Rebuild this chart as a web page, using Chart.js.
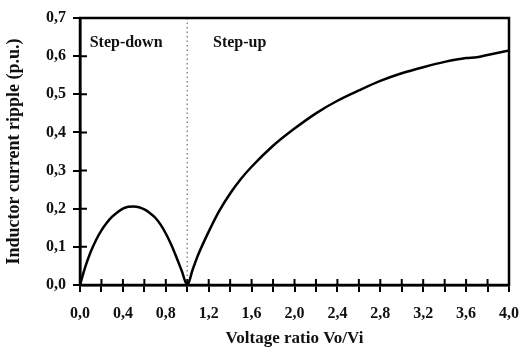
<!DOCTYPE html>
<html>
<head>
<meta charset="utf-8">
<script src="https://cdn.jsdelivr.net/npm/chart.js@4/dist/chart.umd.min.js"></script>
<style>
  html, body { margin: 0; padding: 0; background: #fff; }
  #wrap { width: 521px; height: 353px; }
</style>
</head>
<body>
<div id="wrap"><canvas id="grafico"></canvas></div>
<script>
// values
var ratio = [0, 0.05, 0.1, 0.15, 0.2, 0.25, 0.3, 0.35, 0.4, 0.45, 0.5, 0.55, 0.6, 0.65, 0.7, 0.75, 0.8, 0.85, 0.9, 0.95, 1.0,
  1.05, 1.1, 1.2, 1.3, 1.4, 1.5, 1.6, 1.8, 2.0, 2.2, 2.4, 2.6, 2.8, 3.0, 3.2, 3.4, 3.6, 3.7, 3.8, 4.0];
var ripple = [0, 0.048, 0.087, 0.118, 0.143, 0.163, 0.179, 0.191, 0.2, 0.205, 0.206, 0.204, 0.198, 0.189, 0.177, 0.159, 0.135, 0.106, 0.072, 0.036, 0,
  0.04, 0.078, 0.14, 0.195, 0.24, 0.278, 0.31, 0.365, 0.41, 0.45, 0.483, 0.51, 0.535, 0.555, 0.571, 0.585, 0.595, 0.597, 0.603, 0.615];
var boundary = 1.0;
var regionLabels = [
  { text: "Step-down", x: 0.09, y: 0.634 },
  { text: "Step-up", x: 1.24, y: 0.634 }
];

var fonte = "'Liberation Serif', 'Times New Roman', serif";

function virgula(v) {
  return v.toFixed(1).replace(".", ",");
}

var pontos = ratio.map(function (x, i) {
  return { x: x, y: ripple[i] };
});

var extras = {
  id: "extras",
  afterDatasetsDraw: function (chart) {
    var ctx = chart.ctx;
    var a = chart.chartArea;
    var sx = chart.scales.x;
    var sy = chart.scales.y;
    ctx.save();
    // dotted boundary line
    var bx = sx.getPixelForValue(boundary);
    ctx.strokeStyle = "#888";
    ctx.lineWidth = 1.5;
    ctx.setLineDash([1.5, 3]);
    ctx.beginPath();
    ctx.moveTo(bx, a.top);
    ctx.lineTo(bx, a.bottom);
    ctx.stroke();
    ctx.setLineDash([]);
    // inner half of tick marks
    ctx.strokeStyle = "#000";
    ctx.lineWidth = 2;
    ctx.beginPath();
    sx.ticks.forEach(function (t) {
      var px = sx.getPixelForValue(t.value);
      ctx.moveTo(px, a.bottom);
      ctx.lineTo(px, a.bottom - 6);
    });
    sy.ticks.forEach(function (t) {
      var py = sy.getPixelForValue(t.value);
      ctx.moveTo(a.left, py);
      ctx.lineTo(a.left + 7, py);
    });
    ctx.stroke();
    // frame
    ctx.lineWidth = 2.5;
    ctx.strokeRect(a.left, a.top, a.right - a.left, a.bottom - a.top);
    // region labels
    ctx.fillStyle = "#111";
    ctx.font = "bold 16px " + fonte;
    ctx.textBaseline = "middle";
    ctx.textAlign = "left";
    regionLabels.forEach(function (l) {
      ctx.fillText(l.text, sx.getPixelForValue(l.x), sy.getPixelForValue(l.y));
    });
    ctx.restore();
  }
};

var ctx = document.getElementById("grafico").getContext("2d");
var myChart = new Chart(ctx, {
  type: "scatter",
  data: {
    datasets: [
      {
        data: pontos,
        showLine: true,
        borderColor: "#000",
        borderWidth: 2.5,
        pointRadius: 0,
        cubicInterpolationMode: "monotone",
        fill: false,
      },
    ],
  },
  options: {
    responsive: true,
    maintainAspectRatio: false,
    animation: false,
    layout: { padding: { left: 0, right: 12, top: 18, bottom: 0 } },
    plugins: { legend: { display: false }, tooltip: { enabled: false } },
    scales: {
      x: {
        type: "linear",
        min: 0,
        max: 4,
        afterFit: function (s) {
          s.height = 68;
          s.paddingRight = 12;
        },
        border: { display: true, color: "#000", width: 2.5 },
        grid: { drawOnChartArea: false, drawTicks: true, tickLength: 7, color: "#000", lineWidth: 2 },
        ticks: {
          stepSize: 0.2,
          padding: 12,
          color: "#111",
          font: { family: fonte, size: 16, weight: "bold" },
          maxRotation: 0,
          autoSkip: false,
          callback: function (v) {
            return Math.round(v * 10) % 4 === 0 ? virgula(v) : "";
          },
        },
        title: {
          display: true,
          text: "Voltage ratio Vo/Vi",
          color: "#111",
          font: { family: fonte, size: 17, weight: "bold" },
          padding: { top: 5 },
        },
      },
      y: {
        min: 0,
        max: 0.7,
        afterFit: function (s) { s.width = 80; },
        border: { display: true, color: "#000", width: 2.5 },
        grid: { drawOnChartArea: false, drawTicks: true, tickLength: 7, color: "#000", lineWidth: 2 },
        ticks: {
          stepSize: 0.1,
          padding: 7,
          color: "#111",
          font: { family: fonte, size: 16, weight: "bold" },
          callback: function (v) { return virgula(v); },
        },
        title: {
          display: true,
          text: "Inductor current ripple (p.u.)",
          color: "#111",
          font: { family: fonte, size: 18, weight: "bold" },
          padding: { bottom: 2 },
        },
      },
    },
  },
  plugins: [extras],
});
</script>
</body>
</html>
